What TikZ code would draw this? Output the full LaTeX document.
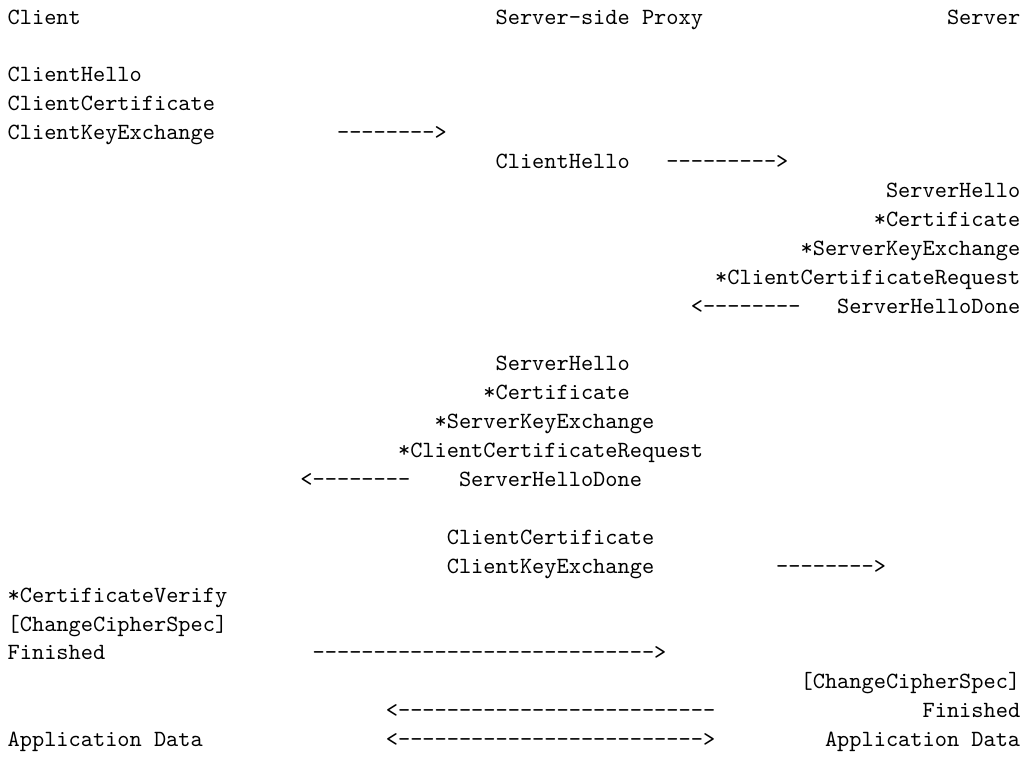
\documentclass[tikz,border=0pt]{standalone}
\usepackage{tikz}
\newcommand\dashrun[1]{\foreach \i in {1,...,#1}{-\kern0pt}}
\tikzset{
  txt/.style={anchor=base west, inner sep=0pt, outer sep=0pt, font=\ttfamily},
  txtr/.style={anchor=base east, inner sep=0pt, outer sep=0pt, font=\ttfamily}
}
\begin{document}
\begin{tikzpicture}[x=5.25pt, y=-12.44pt]
\useasboundingbox (-3.3pt,10.33pt) rectangle (439.1pt,-317.17pt);
% header
\node[txt]  (client) at (0,0)  {Client};
\node[txt]  (proxy)  at (40,0) {Server-side Proxy};
\node[txtr] (server) at (83,0) {Server};
% client -> proxy
\node[txt] (c1) at (0,2) {ClientHello};
\node[txt] (c2) at (0,3) {ClientCertificate};
\node[txt] (c3) at (0,4) {ClientKeyExchange};
\node[txt] (a1) at (27,4) {\dashrun{8}>};
% proxy -> server
\node[txt] (p1) at (40,5) {ClientHello};
\node[txt] (a2) at (54,5) {\dashrun{9}>};
% server -> proxy
\node[txtr] (s1) at (83,6)  {ServerHello};
\node[txtr] (s2) at (83,7)  {*Certificate};
\node[txtr] (s3) at (83,8)  {*ServerKeyExchange};
\node[txtr] (s4) at (83,9)  {*ClientCertificateRequest};
\node[txtr] (s5) at (83,10) {ServerHelloDone};
\node[txt]  (a3) at (56,10) {<\dashrun{8}};
% proxy -> client
\node[txt] (p2) at (40,12) {ServerHello};
\node[txt] (p3) at (39,13) {*Certificate};
\node[txt] (p4) at (35,14) {*ServerKeyExchange};
\node[txt] (p5) at (32,15) {*ClientCertificateRequest};
\node[txt] (p6) at (37,16) {ServerHelloDone};
\node[txt] (a4) at (24,16) {<\dashrun{8}};
% proxy -> server
\node[txt] (p7) at (36,18) {ClientCertificate};
\node[txt] (p8) at (36,19) {ClientKeyExchange};
\node[txt] (a5) at (63,19) {\dashrun{8}>};
% client finished
\node[txt] (c4) at (0,20) {*CertificateVerify};
\node[txt] (c5) at (0,21) {[ChangeCipherSpec]};
\node[txt] (c6) at (0,22) {Finished};
\node[txt] (a6) at (25,22) {\dashrun{28}>};
% server finished
\node[txtr] (s6) at (83,23) {[ChangeCipherSpec]};
\node[txtr] (s7) at (83,24) {Finished};
\node[txt]  (a7) at (31,24) {<\dashrun{26}};
% application data
\node[txt]  (c7) at (0,25)  {Application Data};
\node[txt]  (a8) at (31,25) {<\dashrun{25}>};
\node[txtr] (s8) at (83,25) {Application Data};
\end{tikzpicture}
\end{document}
